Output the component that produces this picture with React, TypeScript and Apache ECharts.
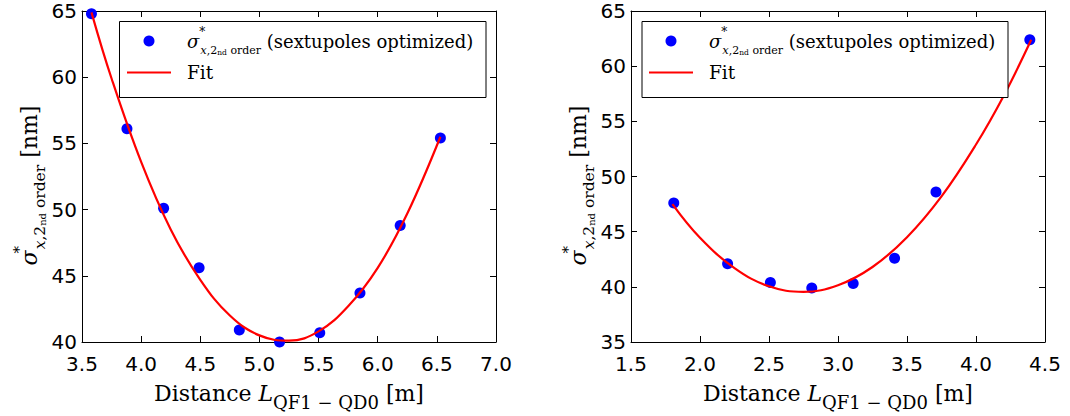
import React, { useEffect, useRef } from "react";
import * as echarts from "echarts";

// ---------- data ----------
const leftXTicks = [3.5, 4.0, 4.5, 5.0, 5.5, 6.0, 6.5, 7.0];
const leftYTicks = [40, 45, 50, 55, 60, 65];
const leftX = [3.58, 3.88, 4.19, 4.49, 4.83, 5.17, 5.51, 5.85, 6.19, 6.53];
const leftY = [64.8, 56.1, 50.1, 45.6, 40.9, 40.0, 40.7, 43.7, 48.8, 55.4];
const leftFitX = [3.58, 3.75, 4.0, 4.25, 4.5, 4.75, 5.0, 5.25, 5.5, 5.75, 6.0, 6.25, 6.53];
const leftFitY = [64.9, 59.9, 53.6, 48.5, 44.7, 42.0, 40.5, 40.1, 40.8, 42.7, 45.6, 49.7, 55.5];

const rightXTicks = [1.5, 2.0, 2.5, 3.0, 3.5, 4.0, 4.5];
const rightYTicks = [35, 40, 45, 50, 55, 60, 65];
const rightX = [1.81, 2.2, 2.51, 2.81, 3.11, 3.41, 3.71, 4.39];
const rightY = [47.6, 42.1, 40.4, 39.9, 40.3, 42.6, 48.6, 62.4];
const rightFitX = [1.8, 2.0, 2.25, 2.5, 2.75, 3.0, 3.25, 3.5, 3.75, 4.0, 4.2, 4.4];
const rightFitY = [47.5, 44.45, 41.7, 40.05, 39.55, 40.15, 41.8, 44.5, 48.2, 52.9, 57.3, 62.4];

const SCATTER_NAME = "σ*x,2nd order (sextupoles optimized)";
const FIT_NAME = "Fit";

const SERIF = "'DejaVu Serif', serif";
const SANS = "'DejaVu Sans', sans-serif";

const zip = (xs: number[], ys: number[]) => xs.map((x, i) => [x, ys[i]]);

const legendRich: any = {
  m: { fontFamily: SERIF, fontSize: 18, lineHeight: 30, color: "#000" },
  mi: { fontFamily: SERIF, fontStyle: "italic", fontSize: 18, lineHeight: 30, color: "#000", padding: [0, 0, 0, 11] },
  st: { fontFamily: SERIF, fontSize: 12, lineHeight: 13, verticalAlign: "top", width: 1, color: "#000" },
  sb: { fontFamily: SERIF, fontStyle: "italic", fontSize: 11.5, lineHeight: 13, verticalAlign: "bottom", color: "#000" },
  sr: { fontFamily: SERIF, fontSize: 11, lineHeight: 13, verticalAlign: "bottom", color: "#000" },
  ss: { fontFamily: SERIF, fontSize: 7.5, lineHeight: 22, verticalAlign: "bottom", color: "#000" },
  fit: { fontFamily: SERIF, fontSize: 18.5, lineHeight: 30, color: "#000", padding: [0, 0, 0, 11] },
};

const axisRich: any = {
  m: { fontFamily: SERIF, fontSize: 22, lineHeight: 36, color: "#000" },
  mi: { fontFamily: SERIF, fontStyle: "italic", fontSize: 22, lineHeight: 36, color: "#000" },
  st: { fontFamily: SERIF, fontSize: 15, lineHeight: 16, verticalAlign: "top", width: 1, color: "#000" },
  sb: { fontFamily: SERIF, fontStyle: "italic", fontSize: 15.5, lineHeight: 16, verticalAlign: "bottom", color: "#000" },
  sr: { fontFamily: SERIF, fontSize: 15.5, lineHeight: 16, verticalAlign: "bottom", color: "#000" },
  ss: { fontFamily: SERIF, fontSize: 10, lineHeight: 27, verticalAlign: "bottom", color: "#000" },
  sp: { fontFamily: SERIF, fontSize: 22, lineHeight: 36, color: "#000", padding: [0, 18, 0, 0] },
  xs: { fontFamily: SERIF, fontSize: 18, lineHeight: 15, verticalAlign: "bottom", color: "#000" },
};

const Y_NAME = "{mi|σ}{st|*}{sb|x}{sr|,2}{ss|nd}{sr| order}{sp| [nm]}";
const X_NAME = "{m|Distance }{mi|L}{xs|QF1 − QD0}{m| [m]}";

function makeAxes(gridIndex: number, xt: number[], yt: number[]) {
  const line = { show: true, onZero: false, lineStyle: { color: "#000", width: 1 } };
  const tick = { show: true, inside: true, length: 6, lineStyle: { color: "#000", width: 1 } };
  const xr = { min: xt[0], max: xt[xt.length - 1], interval: xt[1] - xt[0] };
  const yr = { min: yt[0], max: yt[yt.length - 1], interval: yt[1] - yt[0] };
  const xAxes = [
    {
      gridIndex, type: "value", position: "bottom", ...xr,
      axisLine: line, axisTick: tick, splitLine: { show: false },
      axisLabel: { formatter: (v: number) => v.toFixed(1), fontFamily: SANS, fontSize: 20, lineHeight: 20, color: "#000", margin: 12 },
      name: X_NAME, nameLocation: "middle", nameGap: 33,
      nameTextStyle: { rich: axisRich },
    },
    {
      gridIndex, type: "value", position: "top", ...xr,
      axisLine: line, axisTick: tick, splitLine: { show: false }, axisLabel: { show: false },
    },
  ];
  const yAxes = [
    {
      gridIndex, type: "value", position: "left", ...yr,
      axisLine: line, axisTick: tick, splitLine: { show: false },
      axisLabel: { fontFamily: SANS, fontSize: 20, lineHeight: 18, color: "#000", margin: 5 },
      name: Y_NAME, nameLocation: "middle", nameRotate: 90, nameGap: 30,
      nameTextStyle: { rich: axisRich },
    },
    {
      gridIndex, type: "value", position: "right", ...yr,
      axisLine: line, axisTick: tick, splitLine: { show: false }, axisLabel: { show: false },
    },
  ];
  return { xAxes, yAxes };
}

function makeLegend(left: number, top: number) {
  return {
    orient: "vertical", left, top, padding: 0, itemGap: 7,
    itemWidth: 44, itemHeight: 11, z: 6,
    data: [
      { name: SCATTER_NAME, icon: "circle" },
      { name: FIT_NAME, icon: "path://M0,0H44V2H0Z" },
    ],
    textStyle: { rich: legendRich },
    formatter: (name: string) =>
      name === FIT_NAME
        ? "{fit|Fit}"
        : "{mi|σ}{st|*}{sb|x}{sr|,2}{ss|nd}{sr| order}{m| (sextupoles optimized)}",
  };
}

export default function App() {
  const ref = useRef<HTMLDivElement>(null);
  useEffect(() => {
    if (!ref.current) return;
    const chart = echarts.init(ref.current, null, { renderer: "svg" });
    const a = makeAxes(0, leftXTicks, leftYTicks);
    const b = makeAxes(1, rightXTicks, rightYTicks);
    const scatterStyle = { color: "#0000ff", opacity: 1 };
    const fitLine = { color: "#ff0000", width: 2.2 };
    const option: any = {
      animation: false,
      backgroundColor: "#fff",
      grid: [
        { left: 82, top: 11, width: 414, height: 332 },
        { left: 631, top: 11, width: 414, height: 332 },
      ],
      xAxis: [...a.xAxes, ...b.xAxes],
      yAxis: [...a.yAxes, ...b.yAxes],
      legend: [makeLegend(127, 26), makeLegend(649, 26)],
      graphic: [
        { type: "rect", z: 5, shape: { x: 119.5, y: 21.5, width: 366.5, height: 76 }, style: { fill: "#fff", stroke: "#000", lineWidth: 1 } },
        { type: "rect", z: 5, shape: { x: 642, y: 21.5, width: 366, height: 76 }, style: { fill: "#fff", stroke: "#000", lineWidth: 1 } },
      ],
      series: [
        {
          name: SCATTER_NAME, type: "scatter", xAxisIndex: 0, yAxisIndex: 0, z: 2,
          symbol: "circle", symbolSize: 11, itemStyle: scatterStyle,
          data: zip(leftX, leftY),
        },
        {
          name: FIT_NAME, type: "line", xAxisIndex: 0, yAxisIndex: 0, z: 3,
          symbol: "none", showSymbol: false, smooth: 0.4,
          lineStyle: fitLine, itemStyle: { color: "#ff0000" },
          data: zip(leftFitX, leftFitY),
        },
        {
          name: SCATTER_NAME, type: "scatter", xAxisIndex: 2, yAxisIndex: 2, z: 2,
          symbol: "circle", symbolSize: 11, itemStyle: scatterStyle,
          data: zip(rightX, rightY),
        },
        {
          name: FIT_NAME, type: "line", xAxisIndex: 2, yAxisIndex: 2, z: 3,
          symbol: "none", showSymbol: false, smooth: 0.4,
          lineStyle: fitLine, itemStyle: { color: "#ff0000" },
          data: zip(rightFitX, rightFitY),
        },
      ],
    };
    chart.setOption(option);
    return () => chart.dispose();
  }, []);
  return (
    <div
      ref={ref}
      style={{ position: "fixed", left: 0, top: 0, width: 1070, height: 416 }}
    />
  );
}
